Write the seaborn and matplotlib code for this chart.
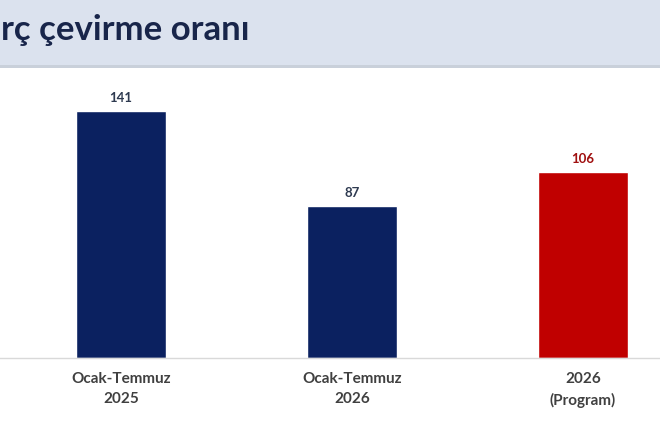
import matplotlib
matplotlib.use('Agg')
import matplotlib.pyplot as plt
import seaborn as sns
import pandas as pd
from matplotlib.patches import Rectangle

# Chart data
categories = ['Ocak-Temmuz\n2025', 'Ocak-Temmuz\n2026', '2026\n(Program)']
values = [141, 87, 106]
bar_colors = ['#0b2160', '#0b2160', '#c00000']
label_colors = ['#2e3a50', '#2e3a50', '#a01010']
title = 'rç çevirme oranı'

df = pd.DataFrame({'period': categories, 'ratio': values})

sns.set_theme(style='white')
plt.rcParams['font.family'] = ['Lato', 'DejaVu Sans']

fig = plt.figure(figsize=(6.6, 4.4), dpi=100)
fig.patch.set_facecolor('white')

# header band
fig.patches.append(Rectangle((0, 1 - 65 / 440), 1, 65 / 440, transform=fig.transFigure,
                             facecolor='#dbe2ee', edgecolor='none', zorder=0))
fig.patches.append(Rectangle((0, 1 - 68 / 440), 1, 3 / 440, transform=fig.transFigure,
                             facecolor='#c9d0da', edgecolor='none', zorder=0))
fig.text(0.001, 1 - 30 / 440, title, fontsize=25, fontweight='bold', color='#18254a',
         ha='left', va='center')

ax = fig.add_axes([0, 82 / 440, 1, 288 / 440])
sns.barplot(data=df, x='period', y='ratio', hue='period', palette=bar_colors,
            width=0.39, legend=False, ax=ax, saturation=1)

ax.set_xlim(-0.524, 2.333)
ax.set_ylim(0, 164.4)
for i, v in enumerate(values):
    ax.text(i, v + 4, str(v), ha='center', va='bottom', fontsize=9.5,
            fontweight='bold', color=label_colors[i])

for s in ['top', 'right', 'left']:
    ax.spines[s].set_visible(False)
ax.spines['bottom'].set_color('#d9d9d9')
ax.spines['bottom'].set_linewidth(1)
ax.set_yticks([])
ax.set_xlabel('')
ax.set_ylabel('')
ax.tick_params(axis='x', length=0, pad=10)
for lbl in ax.get_xticklabels():
    lbl.set_fontsize(11)
    lbl.set_fontweight('bold')
    lbl.set_color('#404040')
    lbl.set_linespacing(1.6)
ax.patch.set_alpha(0)

fig.savefig('out.png', dpi=100)
